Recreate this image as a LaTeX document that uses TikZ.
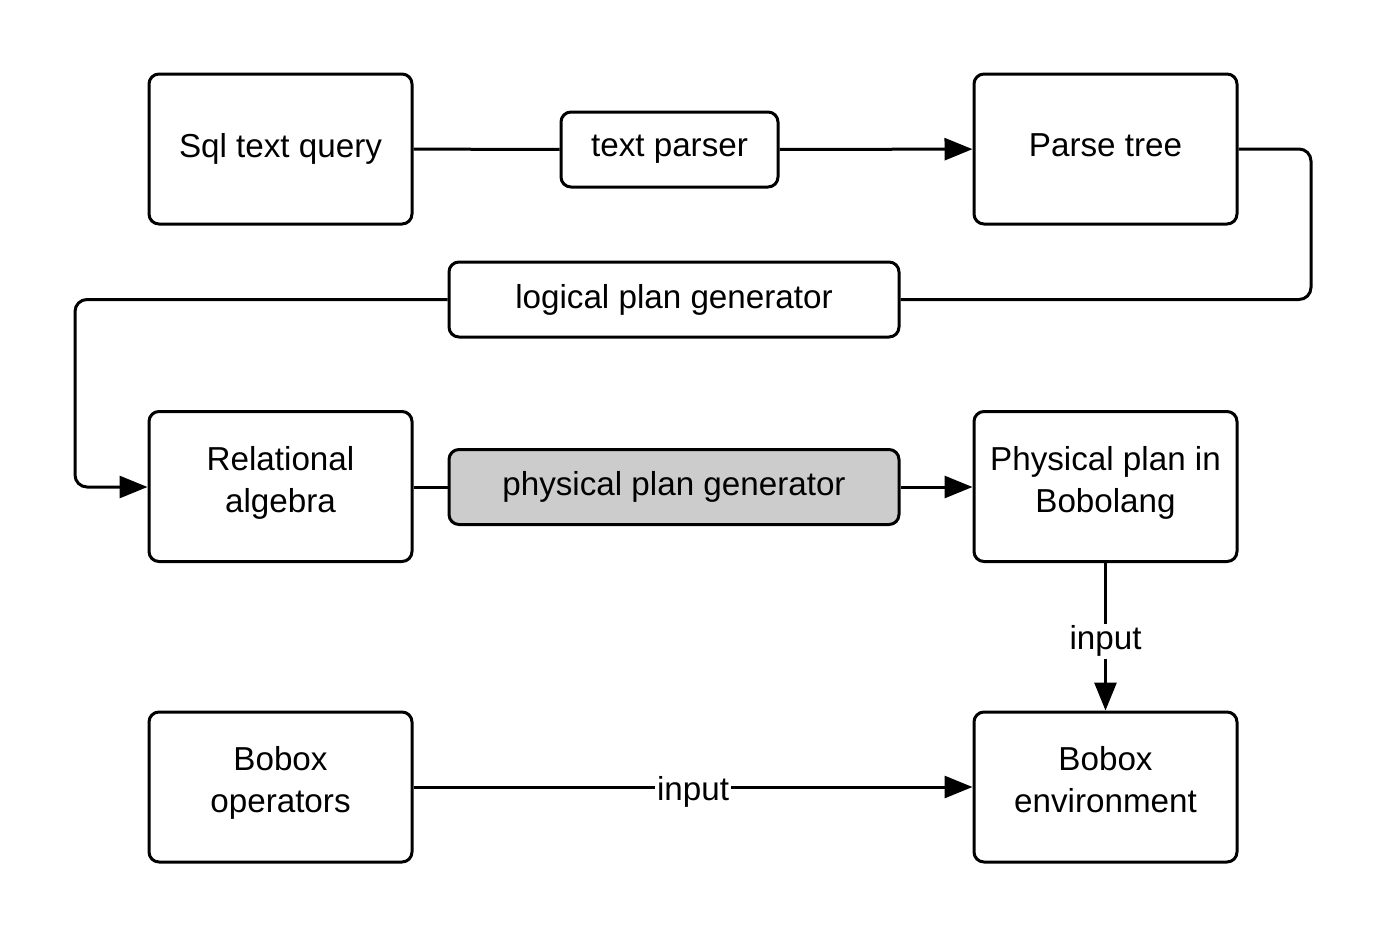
\documentclass[tikz,border=0pt]{standalone}
\usepackage{fontspec}
\setmainfont{Liberation Sans}
\usetikzlibrary{arrows.meta}
\newcommand{\dstrut}[1]{\rule[-#1]{0pt}{0pt}}
\begin{document}
\begin{tikzpicture}[x=0.5pt,y=-0.5pt,
  every node/.style={font=\fontsize{16.6}{21}\selectfont},
  bigbox/.style={draw,line width=1.5pt,rounded corners=5pt,minimum width=131.5pt,minimum height=75pt,align=center,inner sep=2pt},
  smallbox/.style={draw,line width=1.5pt,rounded corners=5pt,minimum height=37.5pt,align=center,inner sep=2pt},
  conn/.style={line width=1.5pt},
  arr/.style={conn,-{Triangle[length=14pt,width=11pt]}},
  lbl/.style={fill=white,inner sep=1pt,yshift=-2.3pt}]
\useasboundingbox (0,0) rectangle (1388,938);
\node[bigbox] (sql) at (280.5,149) {Sql text query};
\node[smallbox,minimum width=108.5pt] (tp) at (669.5,149.5) {text parser};
\node[bigbox] (pt) at (1105.5,149) {Parse tree\dstrut{3.6pt}};
\node[smallbox,minimum width=225pt] (lpg) at (674,299.5) {logical plan generator};
\node[bigbox] (ra) at (280.5,486.5) {Relational\\algebra\dstrut{7.5pt}};
\node[smallbox,minimum width=225pt,fill={rgb,255:red,204;green,204;blue,204}] (ppg) at (674,487) {physical plan generator};
\node[bigbox] (pp) at (1105.5,486.5) {Physical plan in\\Bobolang\dstrut{7.5pt}};
\node[bigbox] (bo) at (280.5,787) {Bobox\\operators\dstrut{7.5pt}};
\node[bigbox] (be) at (1105.5,787) {Bobox\\environment\dstrut{7.5pt}};
\draw[conn] (sql) -- (tp);
\draw[arr] (tp) -- (pt);
\draw[conn,rounded corners=6pt] (pt.east) -- (1311,149) -- (1311,299.5) -- (lpg.east);
\draw[arr,rounded corners=6pt] (lpg.west) -- (75,299.5) -- (75,487) -- (ra.west |- 0,487);
\draw[conn] (ra.east |- 0,487) -- (ppg.west);
\draw[arr] (ppg.east) -- (pp.west |- 0,487);
\draw[arr] (pp) -- node[lbl,pos=0.5] {input} (be);
\draw[arr] (bo) -- node[lbl,pos=0.5] {input} (be);
\end{tikzpicture}
\end{document}
